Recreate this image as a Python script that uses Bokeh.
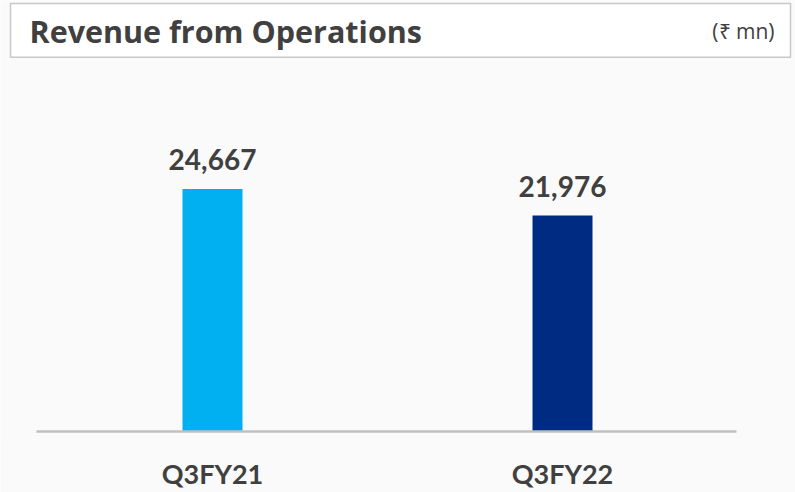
from bokeh.plotting import figure
from bokeh.models import Range1d, FixedTicker
from bokeh.core.properties import value
from bokeh.embed import file_html
from bokeh.resources import INLINE

# ---- data ----
categories = ["Q3FY21", "Q3FY22"]
revenue = [24667, 21976]
bar_colors = ["#00B0F0", "#002B82"]
title_text = "Revenue from Operations"
unit_text = "(\u20b9 mn)"

idx = list(range(len(categories)))
labels = [f"{v:,}" for v in revenue]

FONT = "Lato"
TFONT = "Open Sans"
TXT = "#404040"

W, H = 795, 492
FRAME_H = 440                           # frame bottom (px from top)
BASE = 432                              # baseline (px from top)
px_per_unit = 243 / revenue[0]          # bar scale
x_px = 350                              # px per category step
x0_px = 212                             # first category centre (px)

def dx(px):
    return (px - x0_px) / x_px

def dy(px_from_top):
    return (BASE - px_from_top) / px_per_unit

p = figure(width=W, height=H, output_backend="svg", toolbar_location=None,
           x_range=Range1d(dx(0), dx(W)),
           y_range=Range1d(dy(FRAME_H), dy(0)),
           min_border=0, min_border_bottom=H - FRAME_H,
           background_fill_color="#FAFAFA", border_fill_color="#FAFAFA",
           outline_line_color=None)

# title box
p.quad(left=[dx(10)], right=[dx(790)], top=[dy(3)], bottom=[dy(57)],
       fill_color="#FFFFFF", line_color="#C8C8C8", line_width=1.5)
p.text(x=[dx(29)], y=[dy(31)], text=[title_text], text_font=value(TFONT),
       text_font_style="bold", text_font_size="30.5px", text_color=TXT,
       text_baseline="middle", text_align="left")
p.text(x=[dx(774)], y=[dy(31)], text=[unit_text], text_font=value(TFONT),
       text_font_size="21px", text_color=TXT,
       text_baseline="middle", text_align="right")

# bars
p.vbar(x=idx, top=revenue, width=60 / x_px, bottom=0, fill_color=bar_colors,
       line_color=None)

# baseline
p.segment(x0=[dx(36)], y0=[0], x1=[dx(736)], y1=[0], line_color="#C0C0C0",
          line_width=2.5)

# value labels
p.text(x=idx, y=revenue, text=labels, text_font=value(FONT),
       text_font_style="bold", text_font_size="28px", text_color=TXT,
       text_align="center", text_baseline="bottom", y_offset=-19)

# axes
p.yaxis.visible = False
p.xgrid.visible = False
p.ygrid.visible = False
p.xaxis.ticker = FixedTicker(ticks=idx)
p.xaxis.major_label_overrides = {i: c for i, c in zip(idx, categories)}
p.xaxis.axis_line_color = None
p.xaxis.major_tick_line_color = None
p.xaxis.major_tick_out = 0
p.xaxis.major_tick_in = 0
p.xaxis.minor_tick_line_color = None
p.xaxis.major_label_text_font = FONT
p.xaxis.major_label_text_font_style = "bold"
p.xaxis.major_label_text_font_size = "27px"
p.xaxis.major_label_text_color = TXT
p.xaxis.major_label_standoff = 17

open("out.html", "w").write(file_html(p, INLINE))
